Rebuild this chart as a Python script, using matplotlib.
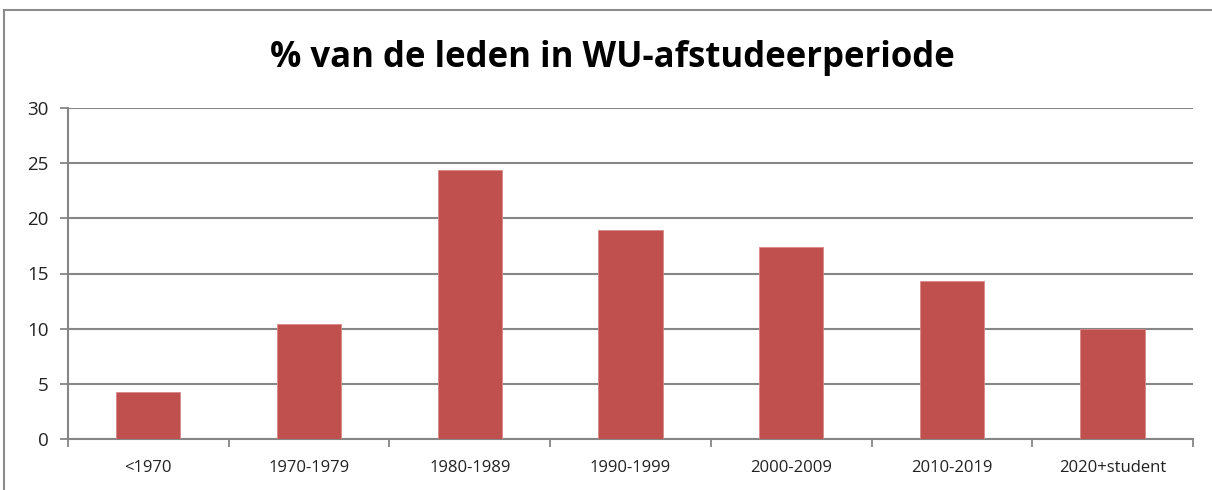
import numpy as np
import matplotlib.pyplot as plt
from matplotlib.patches import Rectangle

categories = ["<1970", "1970-1979", "1980-1989", "1990-1999", "2000-2009", "2010-2019", "2020+student"]
values = [4.3, 10.4, 24.4, 18.9, 17.4, 14.3, 10.0]
yticks = [0, 5, 10, 15, 20, 25, 30]
title = "% van de leden in WU-afstudeerperiode"

plt.rcParams['font.family'] = ['Open Sans', 'DejaVu Sans']

W, H = 1212, 490
fig = plt.figure(figsize=(W / 100, H / 100), dpi=100)
ax = fig.add_axes([68 / W, 1 - 439 / H, (1193 - 68) / W, (439 - 108) / H])

# chart frame (cropped at right and bottom)
fig.patches.append(Rectangle((4 / W, -0.05), 1.1, 1 - 10 / H + 0.05, transform=fig.transFigure,
                             fill=False, edgecolor='#8c8c8c', linewidth=1.5))

x = np.arange(len(categories))
ax.bar(x, values, width=0.4, color='#C0504D', edgecolor='#d88a88', linewidth=0.6, zorder=3)

ax.set_xlim(-0.5, len(categories) - 0.5)
ax.set_ylim(0, 30)
ax.set_yticks(yticks)
ax.set_yticklabels([str(t) for t in yticks], fontsize=13.5, color='#222222')
ax.set_xticks(x)
ax.set_xticklabels(categories, fontsize=12, color='#222222')
ax.set_xticks(np.arange(len(categories) + 1) - 0.5, minor=True)
ax.tick_params(axis='x', which='major', length=0, pad=15)
ax.tick_params(axis='x', which='minor', length=6, color='#868686', width=1.3)
ax.tick_params(axis='y', length=6, color='#868686', width=1.3, pad=8)

ax.grid(axis='y', color='#868686', linewidth=1.5, zorder=0)
for s in ['top', 'right']:
    ax.spines[s].set_visible(False)
for s in ['left', 'bottom']:
    ax.spines[s].set_color('#868686')
    ax.spines[s].set_linewidth(1.5)

fig.text(612 / W, 1 - 58 / H, title, ha='center', va='center', fontsize=25, fontweight='bold')

fig.savefig('out.png', dpi=100)
